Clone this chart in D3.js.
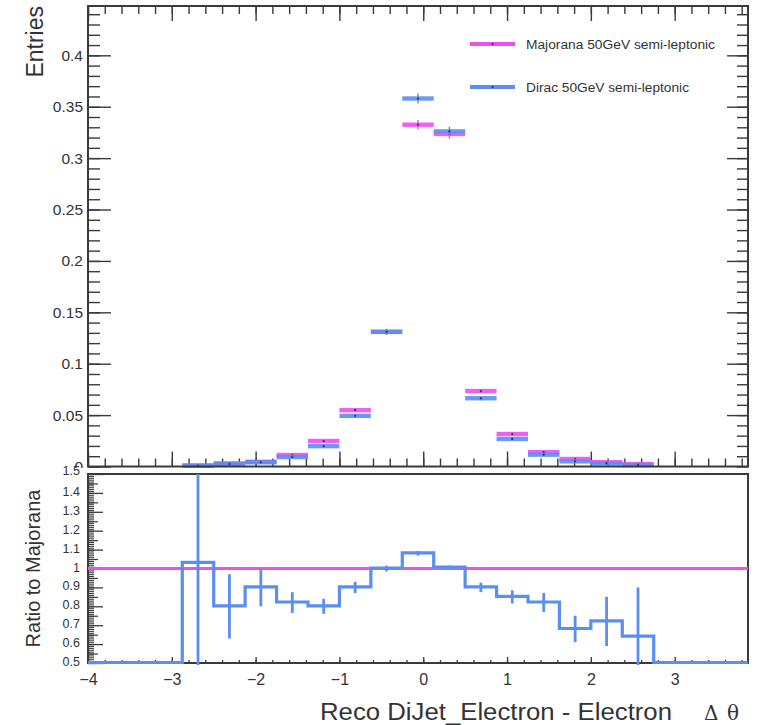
<!DOCTYPE html>
<html>
<head>
<meta charset="utf-8">
<script src="https://cdn.jsdelivr.net/npm/d3@7"></script>
<style>
  html, body { margin: 0; padding: 0; background: #fff; }
  svg { display: block; }
  text { font-family: "Liberation Sans", Arial, Helvetica, sans-serif; fill: #333; }
</style>
</head>
<body>
<svg id="chart" width="762" height="725"></svg>
<script>
// ---------------- data ----------------
const xRange = [-4, 3.875];          // histogram axis range
const nBins = 21;                    // bins of width 0.375
const seriesNames = ["Majorana 50GeV semi-leptonic", "Dirac 50GeV semi-leptonic"];
const majorana = [0, 0, 0, 0.0008, 0.0030, 0.0046, 0.0112, 0.0248, 0.0548, 0.1310, 0.3325,
                  0.3235, 0.0734, 0.0316, 0.0140, 0.0073, 0.0042, 0.0024, 0, 0, 0];
const dirac    = [0, 0, 0, 0.0009, 0.0024, 0.0041, 0.0092, 0.0198, 0.0493, 0.1310, 0.3580,
                  0.3260, 0.0664, 0.0268, 0.0115, 0.0050, 0.0030, 0.0015, 0, 0, 0];
const majoranaErr = [0, 0, 0, 0.0003, 0.0005, 0.0006, 0.0009, 0.0013, 0.0019, 0.0029, 0.0046,
                     0.0045, 0.0021, 0.0014, 0.0009, 0.0007, 0.0005, 0.0004, 0, 0, 0];
const diracErr    = [0, 0, 0, 0.0003, 0.0005, 0.0006, 0.0008, 0.0012, 0.0018, 0.0029, 0.0048,
                     0.0045, 0.0020, 0.0013, 0.0008, 0.0006, 0.0005, 0.0004, 0, 0, 0];
const ratio    = [0, 0, 0, 1.03, 0.80, 0.90, 0.82, 0.80, 0.90, 1.00, 1.08,
                  1.005, 0.90, 0.85, 0.82, 0.68, 0.72, 0.64, 0, 0, 0];
const ratioErr = [0, 0, 0, 0.60, 0.17, 0.10, 0.055, 0.04, 0.03, 0.015, 0.012,
                  0.01, 0.025, 0.035, 0.05, 0.07, 0.13, 0.26, 0, 0, 0];
const topYTicks = [0.05, 0.1, 0.15, 0.2, 0.25, 0.3, 0.35, 0.4];
const ratioYTicks = [0.5, 0.6, 0.7, 0.8, 0.9, 1, 1.1, 1.2, 1.3, 1.4, 1.5];
const xTickLabels = [-4, -3, -2, -1, 0, 1, 2, 3];

// ---------------- layout ----------------
const L = 88, R = 748;
const topT = 6, topB = 466.5;
const ratT = 474, ratB = 663;
const cMag = "#f04ef0", cBlue = "#5a8ef0";
const axisCol = "#3a3a3a";

const svg = d3.select("#chart");
const binW = (xRange[1] - xRange[0]) / nBins;
const bins = d3.range(nBins).map(i => ({
  i, lo: xRange[0] + i * binW, hi: xRange[0] + (i + 1) * binW, c: xRange[0] + (i + 0.5) * binW
}));

const x = d3.scaleLinear().domain(xRange).range([L, R]);
const yTop = d3.scaleLinear().domain([0, 0.448]).range([topB, topT]);
const yRat = d3.scaleLinear().domain([0.5, 1.5]).range([ratB, ratT]);

const fmtMinus = d => (d < 0 ? "\u2212" + Math.abs(d) : String(d));

function styleAxis(g, w) {
  g.select(".domain").remove();
  g.selectAll(".tick line").attr("stroke", axisCol).attr("stroke-width", w || 1.4);
}
const minorTicks = (a, b, step) => d3.range(Math.round((b - a) / step) + 1).map(k => +(a + k * step).toFixed(6));

// ================= TOP PANEL =================
const topG = svg.append("g");
topG.append("g").attr("transform", `translate(${L},0)`)
  .call(d3.axisLeft(yTop).tickValues(minorTicks(0, 0.44, 0.01)).tickSize(-12).tickFormat(""))
  .call(g => styleAxis(g));
topG.append("g").attr("transform", `translate(${L},0)`)
  .call(d3.axisLeft(yTop).tickValues([0].concat(topYTicks)).tickSize(-23).tickPadding(5)
    .tickFormat(d => d === 0 ? "0" : d3.format("")(d)))
  .call(g => styleAxis(g))
  .call(g => g.selectAll("text").style("font-size", "15.5px").attr("fill", "#333"));
topG.append("g").attr("transform", `translate(${R},0)`)
  .call(d3.axisRight(yTop).tickValues(minorTicks(0, 0.44, 0.01)).tickSize(-11).tickFormat(""))
  .call(g => styleAxis(g));
topG.append("g").attr("transform", `translate(${R},0)`)
  .call(d3.axisRight(yTop).tickValues(topYTicks).tickSize(-21).tickFormat(""))
  .call(g => styleAxis(g));
const xMinor = minorTicks(-4, 3.8, 0.2);
[[topB, d3.axisBottom], [topT, d3.axisTop]].forEach(([yy, ax]) => {
  topG.append("g").attr("transform", `translate(0,${yy})`)
    .call(ax(x).tickValues(xMinor).tickSize(-8).tickFormat(""))
    .call(g => styleAxis(g));
  topG.append("g").attr("transform", `translate(0,${yy})`)
    .call(ax(x).tickValues(xTickLabels).tickSize(-15).tickFormat(""))
    .call(g => styleAxis(g));
});

const seriesTop = [
  { vals: majorana, errs: majoranaErr, col: cMag },
  { vals: dirac, errs: diracErr, col: cBlue }
];
seriesTop.forEach(s => {
  const g = topG.append("g");
  const data = bins.filter(b => s.vals[b.i] > 0);
  g.selectAll("rect").data(data).join("rect")
    .attr("x", b => x(b.lo)).attr("width", b => x(b.hi) - x(b.lo))
    .attr("y", b => yTop(s.vals[b.i]) - 2.2).attr("height", 4.4)
    .attr("fill", s.col).attr("opacity", 0.9);
  g.selectAll("line").data(data).join("line")
    .attr("x1", b => x(b.c)).attr("x2", b => x(b.c))
    .attr("y1", b => yTop(s.vals[b.i] - s.errs[b.i]))
    .attr("y2", b => yTop(s.vals[b.i] + s.errs[b.i]))
    .attr("stroke", s.col).attr("stroke-width", 1.5);
  g.selectAll("circle").data(data).join("circle")
    .attr("cx", b => x(b.c)).attr("cy", b => yTop(s.vals[b.i]))
    .attr("r", 1.1).attr("fill", "#333");
});

topG.append("rect").attr("x", L).attr("y", topT).attr("width", R - L).attr("height", topB - topT)
  .attr("fill", "none").attr("stroke", axisCol).attr("stroke-width", 2);

const legY = [44, 87];
[cMag, cBlue].forEach((c, k) => {
  const lg = topG.append("g");
  lg.append("line").attr("x1", 470).attr("x2", 515).attr("y1", legY[k]).attr("y2", legY[k])
    .attr("stroke", c).attr("stroke-width", 4);
  lg.append("circle").attr("cx", 492.5).attr("cy", legY[k]).attr("r", 1.1).attr("fill", "#333");
  lg.append("text").attr("x", 526).attr("y", legY[k] + 4.5).style("font-size", "12.5px")
    .attr("textLength", k === 0 ? 189 : 163).attr("lengthAdjust", "spacingAndGlyphs")
    .text(seriesNames[k]);
});

svg.append("text").attr("transform", `translate(43,6) rotate(-90)`)
  .attr("text-anchor", "end").style("font-size", "23px").text("Entries");

// ================= RATIO PANEL =================
svg.append("rect").attr("x", 0).attr("y", topB + 1.5).attr("width", 762).attr("height", 725 - topB)
  .attr("fill", "#fff");
const rat = svg.append("g");
svg.append("clipPath").attr("id", "ratclip").append("rect")
  .attr("x", L).attr("y", ratT).attr("width", R - L).attr("height", ratB - ratT + 2);

rat.append("g").attr("transform", `translate(${L},0)`)
  .call(d3.axisLeft(yRat).tickValues(minorTicks(0.5, 1.5, 0.01)).tickSize(-6).tickFormat(""))
  .call(g => styleAxis(g, 1.1));
rat.append("g").attr("transform", `translate(${L},0)`)
  .call(d3.axisLeft(yRat).tickValues(minorTicks(0.55, 1.45, 0.1)).tickSize(-10).tickFormat(""))
  .call(g => styleAxis(g, 1.2));
rat.append("g").attr("transform", `translate(${L},0)`)
  .call(d3.axisLeft(yRat).tickValues(ratioYTicks).tickSize(-15).tickPadding(8)
    .tickFormat(d => d3.format("")(+d.toFixed(1))))
  .call(g => styleAxis(g, 1.3))
  .call(g => g.selectAll("text").style("font-size", "12.5px").attr("fill", "#333")
    .attr("dy", d => d === 1.5 ? "0.05em" : "0.2em"));
rat.append("g").attr("transform", `translate(0,${ratB})`)
  .call(d3.axisBottom(x).tickValues(xMinor).tickSize(-3).tickFormat(""))
  .call(g => styleAxis(g, 1.3));
rat.append("g").attr("transform", `translate(0,${ratB})`)
  .call(d3.axisBottom(x).tickValues(xTickLabels).tickSize(-6).tickPadding(11).tickFormat(fmtMinus))
  .call(g => styleAxis(g, 1.3))
  .call(g => g.selectAll("text").style("font-size", "16px").attr("fill", "#333"));

const plot = rat.append("g").attr("clip-path", "url(#ratclip)");
plot.append("line").attr("x1", x(xRange[0])).attr("x2", x(xRange[1]))
  .attr("y1", yRat(1)).attr("y2", yRat(1)).attr("stroke", cMag).attr("stroke-width", 3.2);

const clampR = v => Math.max(0.5, Math.min(1.5, v));
const stepPts = bins.map(b => [b.lo, clampR(ratio[b.i])]);
stepPts.push([xRange[1], clampR(ratio[nBins - 1])]);
plot.append("path").datum(stepPts)
  .attr("d", d3.line().x(d => x(d[0])).y(d => yRat(d[1]) - 0.5).curve(d3.curveStepAfter))
  .attr("fill", "none").attr("stroke", cBlue).attr("stroke-width", 3.2);
plot.selectAll("line.err").data(bins.filter(b => ratio[b.i] > 0)).join("line")
  .attr("class", "err")
  .attr("x1", b => x(b.c)).attr("x2", b => x(b.c))
  .attr("y1", b => yRat(ratio[b.i] - ratioErr[b.i]))
  .attr("y2", b => yRat(ratio[b.i] + ratioErr[b.i]))
  .attr("stroke", cBlue).attr("stroke-width", 2.8);

rat.append("rect").attr("x", L).attr("y", ratT).attr("width", R - L).attr("height", ratB - ratT)
  .attr("fill", "none").attr("stroke", axisCol).attr("stroke-width", 2);
// redraw the bottom blue runs over the frame like the reference
plot.raise();

svg.append("text").attr("transform", `translate(40,${(ratT + ratB) / 2}) rotate(-90)`)
  .attr("text-anchor", "middle").style("font-size", "20px").text("Ratio to Majorana");

const xt = svg.append("text").attr("y", 720).style("font-size", "23px");
xt.append("tspan").attr("x", 320).attr("textLength", 352).attr("lengthAdjust", "spacingAndGlyphs")
  .text("Reco DiJet_Electron - Electron");
xt.append("tspan").attr("x", 704).style("font-family", "'DejaVu Serif', 'Liberation Serif', serif")
  .style("font-size", "20px").text("\u0394");
xt.append("tspan").attr("x", 727).style("font-family", "'DejaVu Serif', 'Liberation Serif', serif")
  .style("font-size", "20px").text("\u03b8");
</script>
</body>
</html>
